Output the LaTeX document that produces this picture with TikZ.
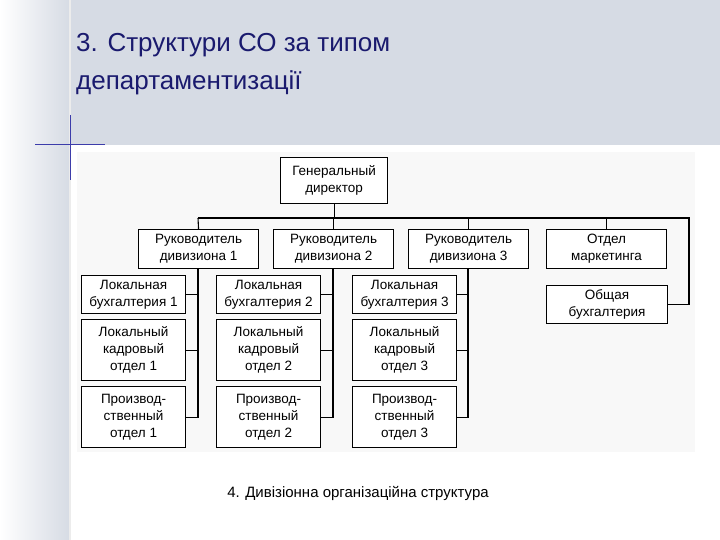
\documentclass[tikz,border=0pt]{standalone}
\usepackage{fontspec}
\setmainfont{Liberation Sans}
\definecolor{bgc}{RGB}{214,219,228}
\definecolor{crossc}{RGB}{60,60,170}
\definecolor{titc}{RGB}{26,26,110}
\definecolor{panel}{RGB}{248,248,248}
\begin{document}
\begin{tikzpicture}[x=1pt,y=-1pt,
  bx/.style={draw=black,line width=1.1pt,fill=white,inner sep=0pt,align=center,font=\fontsize{13.5}{17}\selectfont,anchor=north west},
  ln/.style={draw=black,line width=1.1pt}]
\useasboundingbox (0,0) rectangle (720,540);
\fill[white] (0,0) rectangle (720,540);
\fill[left color=white,right color=bgc] (0,0) rectangle (70,540);
\fill[bgc] (70,0) rectangle (720,145);
\draw[white!85!gray,line width=1.5pt] (70,0) -- (70,540);
\draw[crossc,line width=1pt] (35,145) -- (105,145);
\draw[crossc,line width=1pt] (70,115) -- (70,180);
\fill[panel] (77,152) rectangle (695,452);
\node[anchor=north west,align=left,text=titc,font=\fontsize{26}{38}\selectfont,inner sep=0pt] (title) at (76,33) {3. Структури СО за типом\\департаментизації};
\node[font=\fontsize{15}{18}\selectfont] (cap) at (358,493) {4. Дивізіонна організаційна структура};
\node[bx,minimum width=107pt,minimum height=46pt] (gen) at (280,157) {Генеральный\\директор};
\foreach \n/\x/\t in {r1/138/{Руководитель\\дивизиона 1},r2/273/{Руководитель\\дивизиона 2},r3/408/{Руководитель\\дивизиона 3},mk/546/{Отдел\\маркетинга}}
  \node[bx,minimum width=120pt,minimum height=39pt] (\n) at (\x,229) {\t};
\node[bx,minimum width=121pt,minimum height=38pt] (ob) at (546,285) {Общая\\бухгалтерия};
\coordinate (bl) at (198,218); \coordinate (br) at (689,218);
\draw[ln] (gen.south) -- (gen.south |- bl);
\draw[ln] (bl) -- (br) -- (br |- ob.east) -- (ob.east);
\draw[ln] (mk.north) -- (mk.north |- bl);
\draw[ln] (r2.north) -- (r2.north |- bl);
\draw[ln] (r3.north) -- (r3.north |- bl);
\draw[ln] (r1.north) -- (bl);
\foreach \i/\x/\sx in {1/81/198,2/216/333,3/352/468}{
  \node[bx,minimum width=104pt,minimum height=38pt] (b\i) at (\x,275) {Локальная\\бухгалтерия \i};
  \node[bx,minimum width=104pt,minimum height=61pt] (k\i) at (\x,319) {Локальный\\кадровый\\отдел \i};
  \node[bx,minimum width=104pt,minimum height=61pt] (p\i) at (\x,386) {Производ-\\ственный\\отдел \i};
  \coordinate (s\i) at (\sx,0);
  \draw[ln] (s\i |- r\i.south) -- (s\i |- p\i.east) -- (p\i.east);
  \draw[ln] (b\i.east) -- (s\i |- b\i.east);
  \draw[ln] (k\i.east) -- (s\i |- k\i.east);
}
\end{tikzpicture}
\end{document}
